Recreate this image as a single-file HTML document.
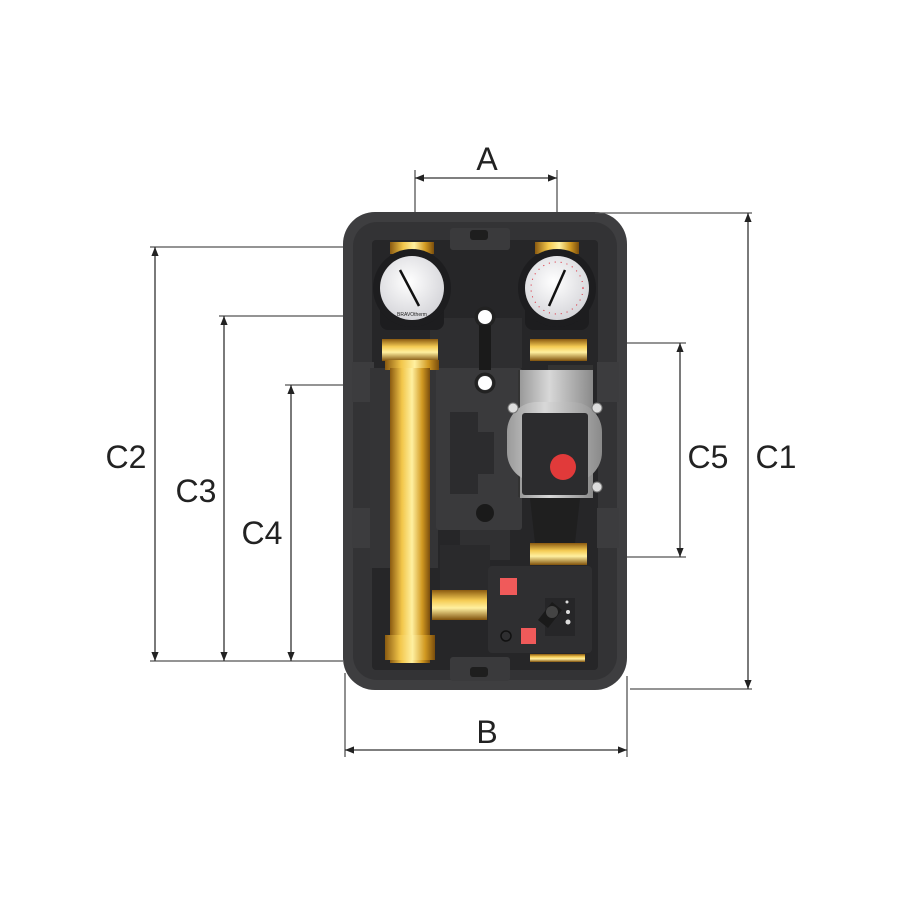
<!DOCTYPE html>
<html><head><meta charset="utf-8"><style>
html,body{margin:0;padding:0;background:#fff;}
svg{display:block}
text{font-family:"Liberation Sans",sans-serif;fill:#222}
</style></head><body>
<svg width="900" height="900" viewBox="0 0 900 900" xmlns="http://www.w3.org/2000/svg">
<defs>
<marker id="ar" viewBox="0 0 10 10" refX="10" refY="5" markerWidth="9" markerHeight="12" markerUnits="userSpaceOnUse" orient="auto-start-reverse">
<path d="M0,1 L10,5 L0,9 z" fill="#222"/></marker>
<linearGradient id="brass" x1="0" x2="1" y1="0" y2="0">
<stop offset="0" stop-color="#8a5a10"/><stop offset="0.3" stop-color="#f2c64a"/><stop offset="0.55" stop-color="#fff0a0"/><stop offset="0.8" stop-color="#d29a22"/><stop offset="1" stop-color="#7a4d0c"/></linearGradient>
<linearGradient id="brassv" x1="0" x2="0" y1="0" y2="1">
<stop offset="0" stop-color="#8a5a10"/><stop offset="0.35" stop-color="#f5cc55"/><stop offset="0.6" stop-color="#fff0a0"/><stop offset="1" stop-color="#80520c"/></linearGradient>
<radialGradient id="face" cx="0.45" cy="0.4" r="0.7"><stop offset="0" stop-color="#fff"/><stop offset="1" stop-color="#cfcfd4"/></radialGradient>
<linearGradient id="grey" x1="0" x2="1"><stop offset="0" stop-color="#9a9a9a"/><stop offset="0.4" stop-color="#d8d8d8"/><stop offset="1" stop-color="#8a8a8a"/></linearGradient>
</defs>

<!-- body -->
<rect x="343" y="212" width="284" height="478" rx="32" fill="#3e3e40"/>
<rect x="353" y="222" width="264" height="458" rx="24" fill="#333335"/>
<rect x="372" y="240" width="226" height="430" rx="4" fill="#262628"/>
<rect x="450" y="228" width="60" height="22" rx="3" fill="#3a3a3c"/>
<rect x="470" y="230" width="18" height="10" rx="3" fill="#1e1e1e"/>
<rect x="450" y="657" width="60" height="24" rx="3" fill="#3a3a3c"/>
<rect x="470" y="667" width="18" height="10" rx="3" fill="#1e1e1e"/>
<!-- side clips -->
<rect x="352" y="362" width="22" height="40" fill="#3c3c3e"/>
<rect x="352" y="508" width="22" height="40" fill="#3c3c3e"/>
<rect x="597" y="362" width="22" height="40" fill="#3c3c3e"/>
<rect x="597" y="508" width="22" height="40" fill="#3c3c3e"/>
<rect x="370" y="368" width="68" height="200" fill="#343436"/>
<!-- central plate -->
<rect x="436" y="368" width="86" height="162" rx="3" fill="#3a3a3c"/>
<rect x="430" y="318" width="92" height="50" fill="#2e2e30"/>
<path d="M450,412 h28 v20 h16 v42 h-16 v20 h-28 z" fill="#2c2c2e"/>
<circle cx="485" cy="317" r="7" fill="#fff"/><circle cx="485" cy="317" r="9" fill="none" stroke="#222" stroke-width="3"/>
<circle cx="485" cy="383" r="7" fill="#fff"/><circle cx="485" cy="383" r="9" fill="none" stroke="#222" stroke-width="3"/>
<circle cx="485" cy="513" r="9" fill="#1a1a1a"/>
<rect x="479" y="325" width="12" height="45" fill="#1a1a1a"/>
<rect x="460" y="530" width="50" height="30" fill="#303032"/>
<rect x="440" y="545" width="50" height="55" fill="#2a2a2c"/>

<!-- top brass -->
<rect x="390" y="242" width="44" height="12" fill="url(#brass)"/>
<rect x="535" y="242" width="44" height="12" fill="url(#brass)"/>

<!-- gauges -->
<g>
<rect x="380" y="300" width="64" height="30" rx="8" fill="#1d1d1f"/>
<circle cx="412" cy="288" r="39" fill="#1d1d1f"/>
<circle cx="412" cy="288" r="32" fill="url(#face)"/>
<line x1="400" y1="270" x2="419" y2="306" stroke="#111" stroke-width="2.5"/>
<text x="412" y="316" font-size="5" text-anchor="middle" fill="#777">BRAVOtherm</text>
</g>
<g>
<rect x="525" y="300" width="64" height="30" rx="8" fill="#1d1d1f"/>
<circle cx="557" cy="288" r="39" fill="#1d1d1f"/>
<circle cx="557" cy="288" r="32" fill="url(#face)"/>
<circle cx="557" cy="288" r="26" fill="none" stroke="#d23" stroke-width="1" stroke-dasharray="1 5"/>
<line x1="565" y1="270" x2="549" y2="306" stroke="#111" stroke-width="2.5"/>
</g>

<!-- brass nuts -->
<rect x="382" y="339" width="56" height="22" fill="url(#brassv)"/>
<rect x="530" y="339" width="57" height="22" fill="url(#brassv)"/>
<rect x="530" y="543" width="57" height="22" fill="url(#brassv)"/>

<!-- left brass pipe -->
<rect x="385" y="360" width="54" height="10" fill="url(#brass)"/>
<rect x="390" y="368" width="40" height="295" fill="url(#brass)"/>
<rect x="385" y="635" width="50" height="25" fill="url(#brass)"/>
<rect x="432" y="590" width="55" height="30" fill="url(#brassv)"/>

<!-- pump -->
<path d="M518,370 h30 v-5 h45 v132 h-75 z" fill="#333"/>
<rect x="520" y="370" width="73" height="128" fill="url(#grey)"/>
<rect x="507" y="402" width="95" height="80" rx="30" fill="url(#grey)"/>
<circle cx="513" cy="408" r="5" fill="#ddd" stroke="#777"/>
<circle cx="597" cy="408" r="5" fill="#ddd" stroke="#777"/>
<circle cx="597" cy="487" r="5" fill="#ddd" stroke="#777"/>
<rect x="522" y="413" width="66" height="82" rx="3" fill="#2c2c2e"/>
<circle cx="563" cy="467" r="13" fill="#e13a3a"/>
<path d="M530,498 h50 l-5,45 h-40 z" fill="#1f1f1f"/>

<!-- actuator -->
<rect x="488" y="566" width="104" height="87" rx="4" fill="#2f2f31"/>
<rect x="530" y="654" width="55" height="8" fill="url(#brassv)"/>
<rect x="500" y="578" width="17" height="17" fill="#f05a5a"/>
<rect x="521" y="628" width="15" height="16" fill="#f05a5a"/>
<circle cx="506" cy="636" r="5" fill="none" stroke="#111" stroke-width="1.5"/>
<rect x="545" y="598" width="30" height="38" fill="#262628"/>
<path d="M538,620 l14,-18 l10,8 l-14,18 z" fill="#1a1a1a"/>
<circle cx="552" cy="612" r="6" fill="#444"/>
<circle cx="567" cy="602" r="1.5" fill="#ddd"/><circle cx="568" cy="612" r="2" fill="#ddd"/><circle cx="568" cy="622" r="2.5" fill="#ddd"/>

<!-- dimension lines -->
<g stroke="#555" stroke-width="1.3" fill="none">
<line x1="415" y1="170" x2="415" y2="212"/>
<line x1="557" y1="170" x2="557" y2="212"/>
<line x1="595" y1="213" x2="752" y2="213"/>
<line x1="630" y1="689" x2="752" y2="689"/>
<line x1="150" y1="247" x2="343" y2="247"/>
<line x1="150" y1="661" x2="343" y2="661"/>
<line x1="219" y1="316" x2="343" y2="316"/>
<line x1="285" y1="385" x2="343" y2="385"/>
<line x1="627" y1="343" x2="686" y2="343"/>
<line x1="627" y1="557" x2="686" y2="557"/>
<line x1="345" y1="673" x2="345" y2="757"/>
<line x1="627" y1="676" x2="627" y2="757"/>
</g>
<g stroke="#333" stroke-width="1.3" marker-start="url(#ar)" marker-end="url(#ar)">
<line x1="415" y1="178" x2="557" y2="178"/>
<line x1="345" y1="750" x2="627" y2="750"/>
<line x1="748" y1="213" x2="748" y2="689"/>
<line x1="155" y1="247" x2="155" y2="661"/>
<line x1="224" y1="316" x2="224" y2="661"/>
<line x1="291" y1="385" x2="291" y2="661"/>
<line x1="680" y1="343" x2="680" y2="557"/>
</g>
<g font-size="32">
<text x="487" y="170" text-anchor="middle">A</text>
<text x="487" y="743" text-anchor="middle">B</text>
<text x="776" y="468" text-anchor="middle">C1</text>
<text x="126" y="468" text-anchor="middle">C2</text>
<text x="196" y="502" text-anchor="middle">C3</text>
<text x="262" y="544" text-anchor="middle">C4</text>
<text x="708" y="468" text-anchor="middle">C5</text>
</g>
</svg>
</body></html>
